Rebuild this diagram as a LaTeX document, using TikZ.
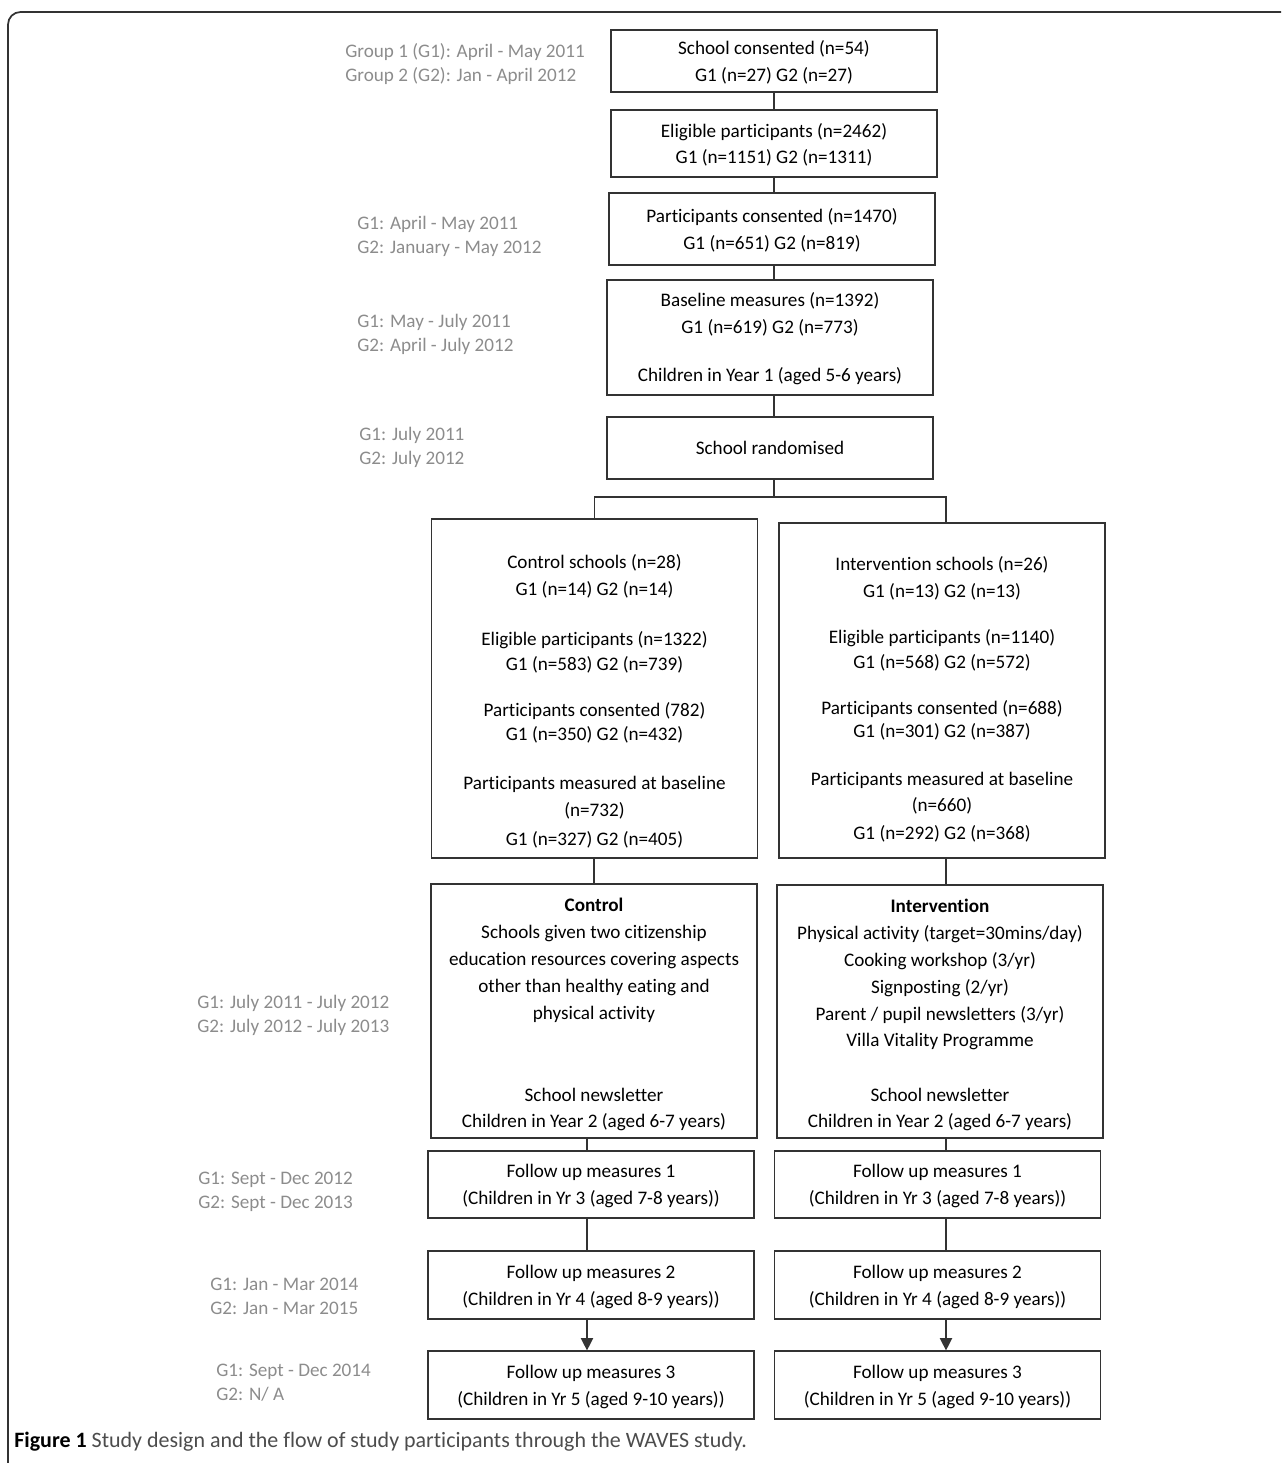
\documentclass[tikz,border=0pt]{standalone}
\usepackage{fontspec}
\setmainfont{Carlito}[Ligatures=NoCommon]
\usetikzlibrary{arrows.meta}

\tikzset{
    box/.style={draw=black!80, line width=0.7pt, minimum width=6.52cm, align=center, inner sep=0pt},
    when/.style={anchor=west, align=left, inner sep=0pt, text=black!45, font=\fontsize{10.9}{13.6}\selectfont},
    link/.style={draw=black!80, line width=0.7pt},
    arr/.style={link, -{Triangle[width=7pt,length=7pt]}}
}

\begin{document}
\begin{tikzpicture}[x=0.02cm, y=-0.02cm, font=\fontsize{10.9}{15.3}\selectfont]
        \useasboundingbox (0,0) rectangle (1281,1463);
        \draw[line width=1pt, black!80, rounded corners=0.25cm] (8,1463) -- (8,12) -- (1281,12);

        \coordinate (mcol)  at (774,0);
        \coordinate (lcol)  at (587,0);
        \coordinate (rcol)  at (946,0);
        \coordinate (split) at (774,497);

        \node[box, minimum height=1.24cm] (b1) at (774,61)    {\rule{0pt}{9.5pt}School consented (n=54)\\ G1 (n=27) G2 (n=27)};
        \node[box, minimum height=1.34cm] (b2) at (774,143.5) {\rule{0pt}{9.5pt}Eligible participants (n=2462)\\ G1 (n=1151) G2 (n=1311)};
        \node[box, minimum height=1.44cm] (b3) at (772,229)   {\rule{0pt}{9.5pt}Participants consented (n=1470)\\ G1 (n=651) G2 (n=819)};
        \node[box, minimum height=2.3cm]  (b4) at (770,337.5) {\rule{0pt}{9.5pt}Baseline measures (n=1392)\\ G1 (n=619) G2 (n=773)\\[11.9pt] Children in Year 1 (aged 5-6 years)};
        \node[box, minimum height=1.24cm] (b5) at (770,448)   {School randomised};

        \node[when] (w1) at (345,64)  {Group 1 (G1): April - May 2011\\ Group 2 (G2): Jan - April 2012};
        \node[when] (w2) at (357,236) {G1: April - May 2011\\ G2: January - May 2012};
        \node[when] (w3) at (357,334) {G1: May - July 2011\\ G2: April - July 2012};
        \node[when] (w4) at (359,447) {G1: July 2011\\ G2: July 2012};

        \draw[link] (mcol |- b1.south) -- (mcol |- b2.north);
        \draw[link] (mcol |- b2.south) -- (mcol |- b3.north);
        \draw[link] (mcol |- b3.south) -- (mcol |- b4.north);
        \draw[link] (mcol |- b4.south) -- (mcol |- b5.north);

        \node[box, minimum height=6.78cm] (ctrl) at (594.5,688.5) {\rule{0pt}{22.8pt}Control schools (n=28)\\ G1 (n=14) G2 (n=14)\\[13pt]
            Eligible participants (n=1322)\\[-1pt] G1 (n=583) G2 (n=739)\\[10.8pt]
            Participants consented (782)\\[-1.7pt] G1 (n=350) G2 (n=432)\\[13pt]
            Participants measured at baseline\\ (n=732)\\[1.1pt] G1 (n=327) G2 (n=405)};
        \node[box, minimum height=6.7cm] (intv) at (942,690.5) {\rule{0pt}{18.2pt}Intervention schools (n=26)\\ G1 (n=13) G2 (n=13)\\[10.8pt]
            Eligible participants (n=1140)\\[-1pt] G1 (n=568) G2 (n=572)\\[10.8pt]
            Participants consented (n=688)\\[-2.3pt] G1 (n=301) G2 (n=387)\\[12pt]
            Participants measured at baseline\\ (n=660)\\[0.6pt] G1 (n=292) G2 (n=368)};

        \draw[link] (mcol |- b5.south) -- (split);
        \draw[link] (split) -| (ctrl.north);
        \draw[link] (split) -| (rcol |- intv.north);

        \node[box, minimum height=5.08cm] (ctrl2) at (594,1011) {\rule{0pt}{11.6pt}\textbf{Control}\\ Schools given two citizenship\\ education resources covering aspects\\
            other than healthy eating and\\ physical activity\\[31.7pt] School newsletter\\[-0.6pt] Children in Year 2 (aged 6-7 years)};
        \node[box, minimum height=5.06cm] (intv2) at (940,1011.5) {\rule{0pt}{11.6pt}\textbf{Intervention}\\ Physical activity (target=30mins/day)\\ Cooking workshop (3/yr)\\
            Signposting (2/yr)\\ Parent / pupil newsletters (3/yr)\\ Villa Vitality Programme\\[15.9pt] School newsletter\\[-0.6pt] Children in Year 2 (aged 6-7 years)};

        \node[when] (w5) at (197,1015) {G1: July 2011 - July 2012\\ G2: July 2012 - July 2013};

        \draw[link] (ctrl.south -| ctrl2.north) -- (ctrl2.north);
        \draw[link] (rcol |- intv.south) -- (rcol |- intv2.north);

        \node[box, minimum height=1.34cm] (fu1a) at (591,1184.5)   {\rule{0pt}{9.5pt}Follow up measures 1\\ (Children in Yr 3 (aged 7-8 years))};
        \node[box, minimum height=1.34cm] (fu1b) at (937.5,1184.5) {\rule{0pt}{9.5pt}Follow up measures 1\\ (Children in Yr 3 (aged 7-8 years))};
        \node[box, minimum height=1.36cm] (fu2a) at (591,1285)     {\rule{0pt}{9.5pt}Follow up measures 2\\ (Children in Yr 4 (aged 8-9 years))};
        \node[box, minimum height=1.36cm] (fu2b) at (937.5,1285)   {\rule{0pt}{9.5pt}Follow up measures 2\\ (Children in Yr 4 (aged 8-9 years))};
        \node[box, minimum height=1.36cm] (fu3a) at (591,1385)     {\rule{0pt}{9.5pt}Follow up measures 3\\ (Children in Yr 5 (aged 9-10 years))};
        \node[box, minimum height=1.36cm] (fu3b) at (937.5,1385)   {\rule{0pt}{9.5pt}Follow up measures 3\\ (Children in Yr 5 (aged 9-10 years))};

        \node[when] (w6) at (198,1191.5) {G1: Sept - Dec 2012\\ G2: Sept - Dec 2013};
        \node[when] (w7) at (210,1296)   {G1: Jan - Mar 2014\\ G2: Jan - Mar 2015};
        \node[when] (w8) at (216,1382.5) {G1: Sept - Dec 2014\\ G2: N/ A};

        \draw[link] (lcol |- ctrl2.south) -- (lcol |- fu1a.north);
        \draw[link] (rcol |- intv2.south) -- (rcol |- fu1b.north);
        \draw[link] (lcol |- fu1a.south) -- (lcol |- fu2a.north);
        \draw[link] (rcol |- fu1b.south) -- (rcol |- fu2b.north);
        \draw[arr] (lcol |- fu2a.south) -- (lcol |- fu3a.north);
        \draw[arr] (rcol |- fu2b.south) -- (rcol |- fu3b.north);

        \node[anchor=west, inner sep=0pt, text=black!70, font=\fontsize{12.5}{15}\selectfont] (cap) at (14,1442)
            {\textcolor{black}{\textbf{Figure 1}} Study design and the flow of study participants through the WAVES study.};

    \end{tikzpicture}
\end{document}
